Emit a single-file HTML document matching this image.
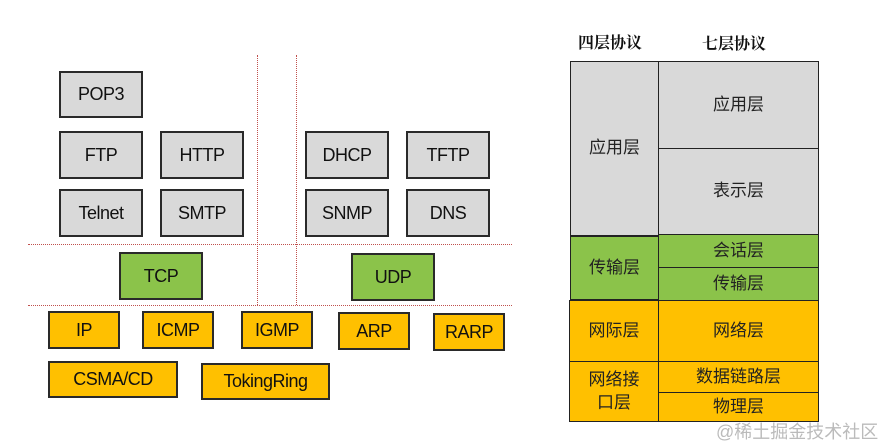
<!DOCTYPE html>
<html><head><meta charset="utf-8"><style>
html,body{margin:0;padding:0;background:#fff;}
body{width:883px;height:447px;position:relative;overflow:hidden;font-family:"Liberation Sans","Noto Sans CJK SC",sans-serif;}
.b{position:absolute;box-sizing:border-box;border:2px solid #2a2a2a;display:flex;align-items:center;justify-content:center;font-size:18px;color:#111;letter-spacing:-0.5px;}
.g{background:#d9d9d9;}
.gr{background:#8bc34a;}
.o{background:#ffc000;}
.vl{position:absolute;width:0;border-left:1px dotted #c0504d;}
.hl{position:absolute;height:0;border-top:1px dotted #c0504d;}
.c{position:absolute;box-sizing:border-box;border:1.5px solid #222;display:flex;align-items:center;justify-content:center;font-size:17px;color:#222;text-align:center;line-height:1.3;}
.h{position:absolute;font-family:"Noto Serif CJK SC",serif;font-weight:bold;font-size:16px;color:#111;}
</style></head><body>
<div class="vl" style="left:257px;top:55px;height:250px"></div>
<div class="vl" style="left:296px;top:55px;height:250px"></div>
<div class="hl" style="left:28px;top:244px;width:484px"></div>
<div class="hl" style="left:28px;top:305px;width:484px"></div>

<div class="b g" style="left:59px;top:71px;width:84px;height:47px">POP3</div>
<div class="b g" style="left:59px;top:131px;width:84px;height:48px">FTP</div>
<div class="b g" style="left:160px;top:131px;width:84px;height:48px">HTTP</div>
<div class="b g" style="left:59px;top:189px;width:84px;height:48px">Telnet</div>
<div class="b g" style="left:160px;top:189px;width:84px;height:48px">SMTP</div>
<div class="b g" style="left:305px;top:131px;width:84px;height:48px">DHCP</div>
<div class="b g" style="left:406px;top:131px;width:84px;height:48px">TFTP</div>
<div class="b g" style="left:305px;top:189px;width:84px;height:48px">SNMP</div>
<div class="b g" style="left:406px;top:189px;width:84px;height:48px">DNS</div>

<div class="b gr" style="left:119px;top:252px;width:84px;height:48px">TCP</div>
<div class="b gr" style="left:351px;top:253px;width:84px;height:48px">UDP</div>

<div class="b o" style="left:48px;top:311px;width:72px;height:38px">IP</div>
<div class="b o" style="left:142px;top:311px;width:72px;height:38px">ICMP</div>
<div class="b o" style="left:241px;top:311px;width:72px;height:38px">IGMP</div>
<div class="b o" style="left:338px;top:312px;width:72px;height:38px">ARP</div>
<div class="b o" style="left:433px;top:313px;width:72px;height:38px">RARP</div>
<div class="b o" style="left:48px;top:361px;width:130px;height:37px">CSMA/CD</div>
<div class="b o" style="left:201px;top:363px;width:129px;height:37px">TokingRing</div>

<div class="h" style="left:578px;top:30px">四层协议</div>
<div class="h" style="left:702px;top:31px">七层协议</div>

<div class="c g" style="left:570px;top:61px;width:89px;height:175px">应用层</div>
<div class="c gr" style="left:570px;top:236px;width:89px;height:64px">传输层</div>
<div class="c o" style="left:569px;top:300px;width:90px;height:62px">网际层</div>
<div class="c o" style="left:569px;top:361px;width:90px;height:61px">网络接<br>口层</div>

<div class="c g" style="left:658px;top:61px;width:161px;height:88px">应用层</div>
<div class="c g" style="left:658px;top:148px;width:161px;height:87px">表示层</div>
<div class="c gr" style="left:658px;top:234px;width:161px;height:34px">会话层</div>
<div class="c gr" style="left:658px;top:267px;width:161px;height:34px">传输层</div>
<div class="c o" style="left:658px;top:300px;width:161px;height:62px">网络层</div>
<div class="c o" style="left:658px;top:361px;width:161px;height:32px">数据链路层</div>
<div class="c o" style="left:658px;top:392px;width:161px;height:30px">物理层</div>

<div style="position:absolute;left:716px;top:418px;font-size:18px;color:#bbb;font-family:'Liberation Sans','Noto Sans CJK SC',sans-serif;white-space:nowrap">@稀土掘金技术社区</div>
</body></html>
